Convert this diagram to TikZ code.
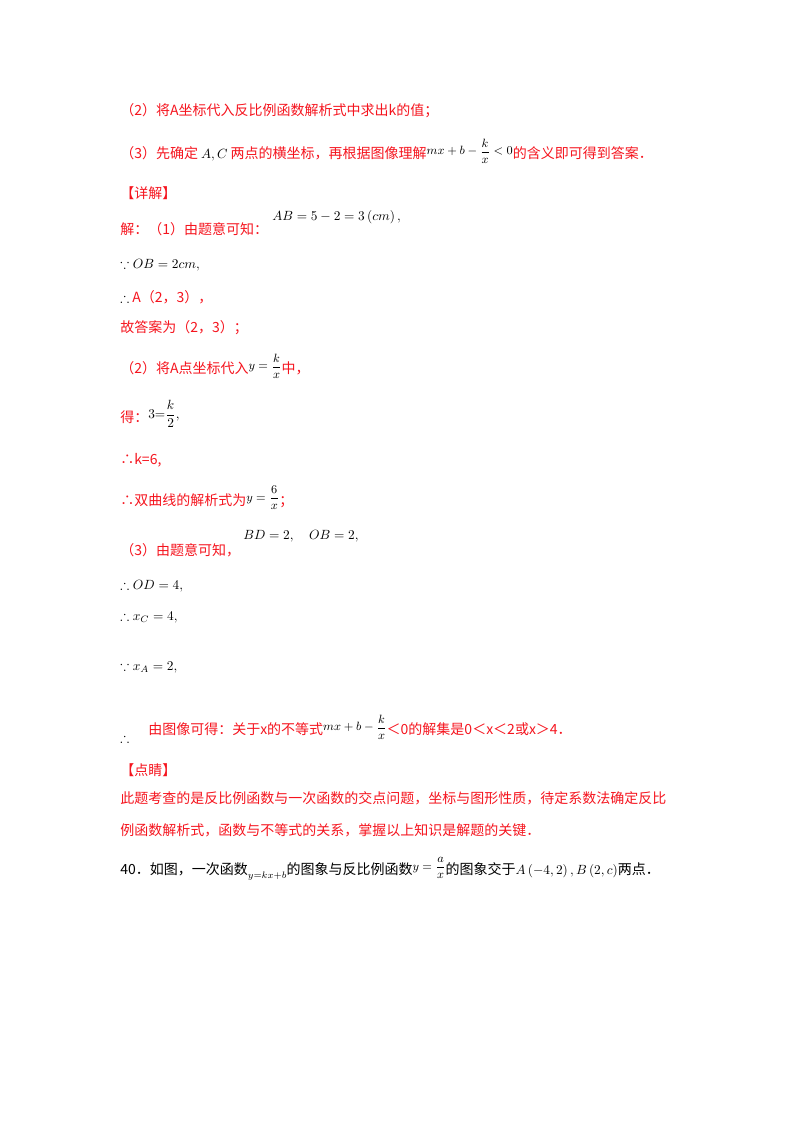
\documentclass[tikz,border=0pt]{standalone}
\usepackage{amssymb}
\usepackage{fontspec}
\setmainfont{Liberation Serif}
\newfontfamily\cjk{Noto Sans CJK SC}
\definecolor{rd}{RGB}{245,20,30}
\tikzset{t/.style={anchor=west,inner sep=0pt,font=\fontsize{10.5pt}{12pt}\selectfont\cjk},r/.style={t,text=rd},k/.style={t,text=black}}
\newcommand{\mth}[1]{{\fontsize{10pt}{12pt}\selectfont$\displaystyle #1$}}
\newcommand{\mfr}[1]{{\fontsize{9pt}{11pt}\selectfont$\displaystyle #1$}}
\begin{document}
\begin{tikzpicture}[x=0.75pt,y=-0.75pt]
\useasboundingbox (0,0) rectangle (800,1132);
\node[r] (l1) at (120,111) {（2）将A坐标代入反比例函数解析式中求出k的值；};
\node[r] (l2) at (120,151) {（3）先确定 \textcolor{black}{\mth{A,C}} 两点的横坐标，再根据图像理解\textcolor{black}{\raisebox{3pt}{\mfr{mx+b-\frac{k}{x}<0}}}的含义即可得到答案．};
\node[r] (l3) at (120,193) {【详解】};
\node[r] (l4) at (120,229) {解：（1）由题意可知：};
\node[k] (m4) at (272,217) {\mth{AB=5-2=3\left(cm\right),}};
\node[k] (l5) at (120,265) {\mth{\because OB=2cm,}};
\node[r] (l6) at (120,297) {\textcolor{black}{\mth{\therefore}} A（2，3），};
\node[r] (l7) at (120,328) {故答案为（2，3）；};
\node[r] (l8) at (120,366) {（2）将A点坐标代入\textcolor{black}{\raisebox{3pt}{\mfr{y=\frac{k}{x}}}}中，};
\node[r] (l9) at (120,414) {得：\textcolor{black}{\raisebox{3pt}{\mth{3{=}\frac{k}{2},}}}};
\node[r] (l10) at (120,460) {∴k=6,};
\node[r] (l11) at (120,498) {∴双曲线的解析式为\textcolor{black}{\raisebox{3pt}{\mfr{y=\frac{6}{x}}}}；};
\node[r] (l12) at (120,550) {（3）由题意可知，};
\node[k] (m12) at (243,536) {\mth{BD=2,\quad OB=2,}};
\node[k] (l13) at (120,586) {\mth{\therefore OD=4,}};
\node[k] (l14) at (120,617) {\mth{\therefore x_C=4,}};
\node[k] (l15) at (120,667) {\mth{\because x_A=2,}};
\node[k] (l16a) at (120,738) {\mth{\therefore}};
\node[r] (l16) at (148,727) {由图像可得：关于x的不等式\textcolor{black}{\raisebox{3pt}{\mfr{mx+b-\frac{k}{x}}}}＜0的解集是0＜x＜2或x＞4．};
\node[r] (l17) at (120,770) {【点睛】};
\node[r] (l18) at (120,798) {此题考查的是反比例函数与一次函数的交点问题，坐标与图形性质，待定系数法确定反比};
\node[r] (l19) at (120,830) {例函数解析式，函数与不等式的关系，掌握以上知识是解题的关键．};
\node[k] (l20) at (120,869) {40．如图，一次函数\raisebox{-3pt}{\mth{\scriptstyle y=kx+b}}的图象与反比例函数\raisebox{3pt}{\mfr{y=\frac{a}{x}}}的图象交于\mth{A\left(-4,2\right),B\left(2,c\right)}两点．};
\end{tikzpicture}
\end{document}
